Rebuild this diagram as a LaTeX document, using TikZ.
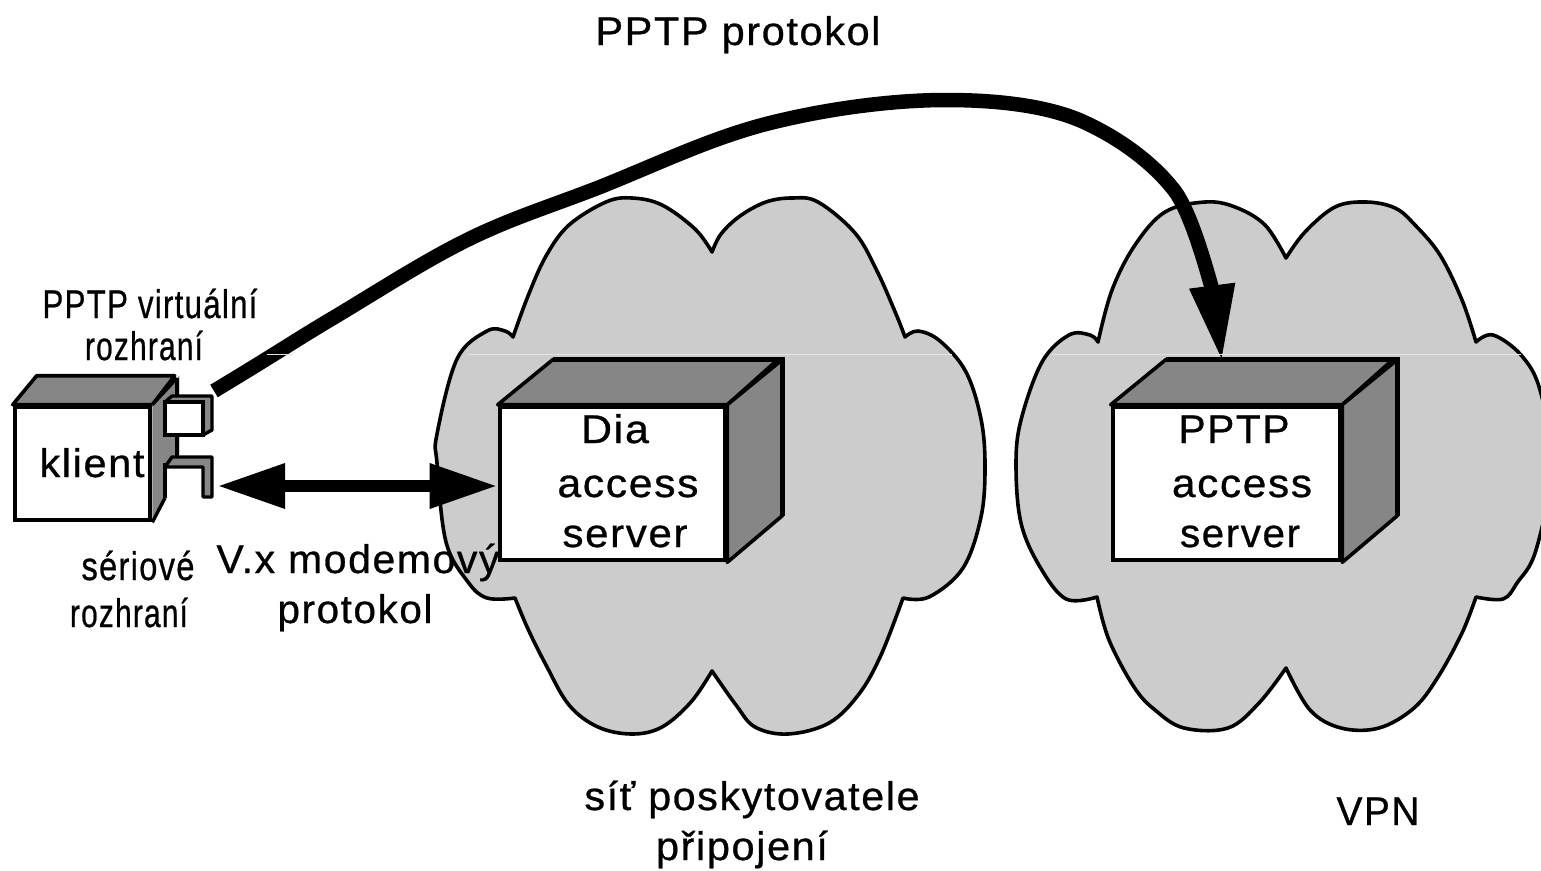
\documentclass[tikz,border=0pt]{standalone}
\usepackage{fontspec}
\usepackage{graphicx}
\usetikzlibrary{arrows.meta}
\newfontfamily\pxfont[LetterSpace=4,FakeBold=0.7]{Liberation Sans}
\newcommand{\fw}[2]{\resizebox{#1pt}{\height}{#2}}
\definecolor{cloudgray}{HTML}{CCCCCC}
\definecolor{facegray}{HTML}{868686}
\definecolor{scanline}{HTML}{E4E4E4}
\tikzset{
  cloudshape/.style={draw=black,fill=cloudgray,line width=3.6pt,line join=round},
  facefront/.style={draw=black,fill=white,line width=4.6pt,inner sep=0pt,minimum width=#1,line join=miter},
  faceside/.style={draw=black,fill=facegray,line width=3.6pt,line join=round},
  portface/.style={draw=black,fill=white,line width=4pt,inner sep=0pt,minimum width=38pt,minimum height=33pt},
  lbl/.style={anchor=base,inner sep=0pt,font=\pxfont\fontsize{40}{44}\selectfont},
  heavy/.style={line width=12.5pt,draw=black},
  smoothlobe/.style={smooth,tension=.6}
}
\begin{document}
\begin{tikzpicture}[x=1pt,y=-1pt]
\useasboundingbox (0,0) rectangle (1541,870);
\fill[white] (0,0) rectangle (1541,870);
\begin{scope}
\clip (0,0) rectangle (1541,870);
% left cloud
\draw[cloudshape]
  plot[smoothlobe] coordinates {(712,252) (695,229) (662,205) (632,198) (606,202) (569,225) (546,256) (528,296) (513,337)}
  -- plot[smoothlobe] coordinates {(513,337) (505,331) (487,331) (457,359) (437,434) (437,463) (446,542) (468,582) (487,598) (515,598)}
  -- plot[smoothlobe] coordinates {(515,598) (528,629) (546,665) (569,705) (598,727) (632,734) (662,727) (691,702) (712,671)}
  -- plot[smoothlobe] coordinates {(712,671) (736,705) (755,727) (788,734) (829,723) (859,694) (881,655) (903,598)}
  -- plot[smoothlobe] coordinates {(903,598) (929,597) (963,568) (981,517) (985,466) (981,419) (966,372) (940,341) (918,331) (905,337)}
  -- plot[smoothlobe] coordinates {(905,337) (896,314) (877,271) (855,233) (818,202) (792,198) (766,202) (740,216) (721,234) (712,252)}
  -- cycle;
% right cloud
\draw[cloudshape]
  plot[smoothlobe] coordinates {(1286,258) (1265,225) (1235,207) (1205,202) (1165,212) (1135,245) (1112,290) (1098,342)}
  -- plot[smoothlobe] coordinates {(1098,342) (1090,335) (1069,335) (1042,362) (1021,420) (1016,465) (1021,523) (1040,567) (1066,599) (1097,597)}
  -- plot[smoothlobe] coordinates {(1097,597) (1109,640) (1134,687) (1155,710) (1184,728) (1228,728) (1259,703) (1286,668)}
  -- plot[smoothlobe] coordinates {(1286,668) (1310,710) (1341,728) (1379,728) (1414,708) (1438,677) (1462,633) (1476,597)}
  -- plot[smoothlobe] coordinates {(1476,597) (1503,599) (1517,583) (1536,550) (1552,465) (1540,390) (1521,355) (1493,335) (1476,342)}
  -- plot[smoothlobe] coordinates {(1476,342) (1462,300) (1440,255) (1415,225) (1395,208) (1366,202) (1335,207) (1305,232) (1286,258)}
  -- cycle;
\end{scope}

% access server cubes
\node[facefront=225pt,minimum height=153pt] (diafront) at (612.5,483.5) {};
\draw[faceside] (diafront.north west) -- ++(55,-45) -- ++(225,0) -- (diafront.north east) -- cycle;
\draw[faceside] (diafront.north east) -- ++(55,-45) -- ++(0,156) -- (diafront.south east) -- cycle;
\draw[black,line width=5pt] ([shift={(55,-45)}]diafront.north west) -- ([shift={(55,-45)}]diafront.north east) -- ++(0,156);
\node[facefront=227pt,minimum height=153pt] (pptpfront) at (1226.5,483.5) {};
\draw[faceside] (pptpfront.north west) -- ++(55,-45) -- ++(227,0) -- (pptpfront.north east) -- cycle;
\draw[faceside] (pptpfront.north east) -- ++(55,-45) -- ++(0,156) -- (pptpfront.south east) -- cycle;
\draw[black,line width=5pt] ([shift={(55,-45)}]pptpfront.north west) -- ([shift={(55,-45)}]pptpfront.north east) -- ++(0,156);
\coordinate (pptptop) at (1222,362);

% client cube
\node[facefront=135pt,minimum height=113pt] (klfront) at (82.5,463.5) {};
\draw[faceside] (klfront.north west) -- ++(24,-29) -- ++(138,0) -- (klfront.north east) -- cycle;
\fill[facegray] (klfront.north east) -- ++(27,-29) -- ++(0,79) -- (165,465) -- (165,498) -- (klfront.south east) -- cycle;
\draw[black,line width=4pt] (177,378) -- (177,457);
\draw[black,line width=3.4pt] (165,498) -- (klfront.south east);
\draw[black,line width=3.4pt] (klfront.north east) -- (177,378);
% upper port (virtual interface)
\draw[faceside,line width=3.4pt] (172,396) -- (212,396) -- (212,430) -- (203,435) -- (203,402) -- (165,402) -- cycle;
\node[portface] (vport) at (184,418.5) {};
% lower port (serial interface)
\draw[faceside,line width=3.4pt] (172,457) -- (212,457) -- (212,497) -- (203,497) -- (203,467) -- (165,467) -- cycle;
\draw[black,line width=4pt] (165,463) -- (165,498);
\coordinate (sport) at (217,486);
\node[lbl] (klabel) at (92,477) {\fw{105}{klient}};

% connectors
\draw[heavy,{Triangle[length=68pt,width=42pt]}-{Triangle[length=68pt,width=42pt]}] (sport) -- (diafront.west |- sport);
\draw[heavy,line width=14.5pt,-{Triangle[length=77pt,width=42pt]}]
  ([xshift=9pt,yshift=9pt]vport.north east)
  .. controls (290,345) and (291,343) .. (333,318)
  .. controls (375,293) and (422.5,262) .. (467,240)
  .. controls (511.5,218) and (550,206.5) .. (600,187)
  .. controls (660,163) and (712,137.5) .. (770,123)
  .. controls (828,108.5) and (893,100) .. (946,100)
  .. controls (999,100) and (1050,106) .. (1086,123)
  .. controls (1120,139) and (1152,162) .. (1174,190)
  .. controls (1195,217) and (1214,300) .. (pptptop);

% scan line artefact
\draw[scanline,line width=1pt] (267,354) -- (293,354);
\draw[scanline,line width=1pt] (468,354) -- (952,354);
\draw[scanline,line width=1pt] (1052,354) -- (1521,354);

% labels
\node[lbl] (ltitle) at (738,45) {\fw{285}{PPTP protokol}};
\node[lbl] (lvirt) at (150,318) {\fw{215}{PPTP virtuální}};
\node[lbl] (lvirtb) at (144,360) {\fw{118}{rozhraní}};
\node[lbl] (lser) at (138,580) {\fw{113}{sériové}};
\node[lbl] (lserb) at (129,627) {\fw{118}{rozhraní}};
\node[lbl] (lmod) at (358,573) {\fw{283}{V.x modemový}};
\node[lbl] (lmodb) at (355,623) {\fw{155}{protokol}};
\node[lbl] (ldia) at (615,443) {\fw{68}{Dia}};
\node[lbl] (ldiaa) at (628,497) {\fw{141}{access}};
\node[lbl] (ldias) at (625,547) {\fw{125}{server}};
\node[lbl] (lpp) at (1234,443) {\fw{111}{PPTP}};
\node[lbl] (lppa) at (1242,497) {\fw{140}{access}};
\node[lbl] (lpps) at (1240,547) {\fw{120}{server}};
\node[lbl] (lnet) at (752,810) {\fw{335}{síť poskytovatele}};
\node[lbl] (lnetb) at (742,860) {\fw{172}{připojení}};
\node[lbl] (lvpn) at (1378,825) {\fw{83}{VPN}};
\end{tikzpicture}
\end{document}
